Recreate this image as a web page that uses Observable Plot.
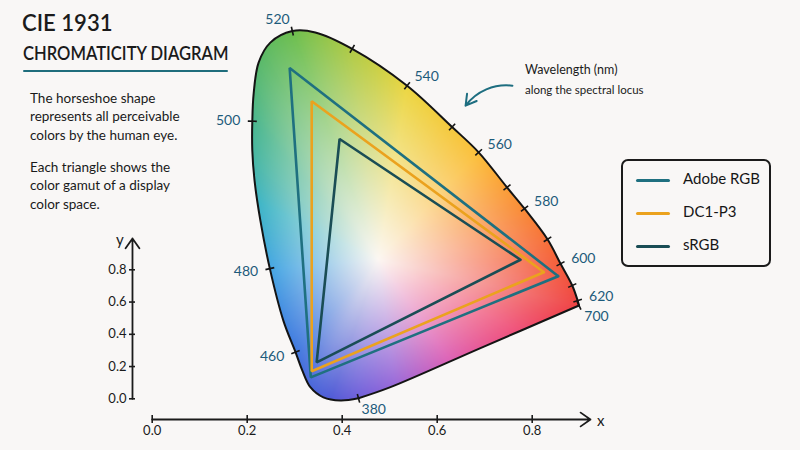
<!DOCTYPE html>
<html>
<head>
<meta charset="utf-8">
<script src="https://cdn.jsdelivr.net/npm/d3@7"></script>
<script src="https://cdn.jsdelivr.net/npm/@observablehq/plot@0.6"></script>
<style>
  html, body { margin: 0; padding: 0; background: #f9f7f6; }
  #wrap { position: relative; width: 800px; height: 450px; overflow: hidden;
          font-family: Lato, "Noto Sans", sans-serif; color: #1b1b1b; }
  #wrap svg { position: absolute; left: 0; top: 0; }
  .abs { position: absolute; white-space: nowrap; line-height: 1; }
  .desc { position: absolute; left: 30px; font-size: 13.5px; line-height: 18.3px; color: #1a1a1a; white-space: nowrap; }
  .legbox { position: absolute; left: 621px; top: 159px; width: 150px; height: 108px; box-sizing: border-box;
            border: 2px solid #1b1b1b; border-radius: 7px; }
  .legline { position: absolute; left: 636px; width: 34px; height: 3px; border-radius: 1.5px; }
  .legtext { position: absolute; left: 683px; font-size: 15px; line-height: 1; white-space: nowrap; color: #161616; }
</style>
</head>
<body>
<div id="wrap">
  <div id="plots"></div>
  <div class="abs" style="left:22px;top:11px;font-size:23.5px;font-weight:600;transform:scaleX(0.94);transform-origin:left top;">CIE 1931</div>
  <div class="abs" style="left:23px;top:43px;font-size:19.5px;font-weight:600;transform:scaleX(0.85);transform-origin:left top;">CHROMATICITY DIAGRAM</div>
  <div class="abs" style="left:23px;top:69.5px;width:205px;height:2.4px;background:#1f6d7c;border-radius:1px;"></div>
  <div class="desc" style="top:89px;">The horseshoe shape<br>represents all perceivable<br>colors by the human eye.</div>
  <div class="desc" style="top:158px;">Each triangle shows the<br>color gamut of a display<br>color space.</div>
  <div class="abs" style="left:525px;top:64px;font-size:12.5px;">Wavelength (nm)</div>
  <div class="abs" style="left:525px;top:84px;font-size:11.5px;">along the spectral locus</div>
  <div class="abs" style="left:597px;top:413px;font-size:15px;">x</div>
  <div class="abs" style="left:116px;top:232px;font-size:15px;">y</div>
  <div id="legend"></div>
</div>
<script>
// ---------- data ----------
// spectral locus outline (chromaticity frame), from 380 nm round to 700 nm
const locusX = [0.240,0.200,0.162,0.133,0.115,0.100,0.073,0.043,0.022,0.009,0.004,0.004,0.007,0.018,0.044,0.093,0.144,0.226,0.348,0.448,0.507,0.570,0.609,0.660,0.689,0.715,0.727,0.730];
const locusY = [0.005,0.000,0.007,0.030,0.068,0.109,0.180,0.297,0.405,0.495,0.563,0.629,0.691,0.761,0.806,0.832,0.829,0.792,0.709,0.616,0.559,0.480,0.432,0.363,0.308,0.259,0.225,0.214];
const locusNm = [380,null,null,null,null,460,null,480,null,null,null,500,null,null,null,520,null,530,540,550,560,570,580,590,600,610,620,700];
// line of purples, 700 nm back to 380 nm
const purpleX = [0.730,0.511,0.311,0.240];
const purpleY = [0.214,0.118,0.030,0.005];
// wavelengths that carry a label
const labelNm = [380,460,480,500,520,540,560,580,600,620,700];

// gamut triangles: vertices R, G, B
const gamuts = ["Adobe RGB", "DC1-P3", "sRGB"];
const gamutX = [[0.684,0.087,0.134],[0.652,0.136,0.136],[0.600,0.198,0.147]];
const gamutY = [[0.280,0.749,0.052],[0.289,0.674,0.066],[0.317,0.589,0.086]];

// axis ticks of the schematic axes
const xTicks = [0, 0.2, 0.4, 0.6, 0.8];
const yTicks = [0, 0.2, 0.4, 0.6, 0.8];

// annotation arrow (chromaticity frame)
const annotationArrow = [{x1: 0.582, y1: 0.709, x2: 0.478, y2: 0.664}];

// colour stops of the horseshoe fill, along the rim
const fillStopX = [0.240,0.178,0.100,0.043,0.011,0.004,0.027,0.093,0.226,0.348,0.507,0.609,0.689,0.730,0.600,0.444,0.322];
const fillStopY = [0.005,0.002,0.108,0.297,0.450,0.629,0.777,0.832,0.792,0.709,0.559,0.432,0.308,0.214,0.158,0.090,0.034];
const fillStopColor = ["#7060da","#4f5bd6","#3f78df","#45a6e3","#3db5c6","#48b68f","#5bb966","#6cbe4e","#b2cb46","#ecd642","#fbbf3a","#f98b36","#f55e3a","#ef4343","#ef5078","#dd62b6","#9a6ad9"];

// ---------- styles ----------
const gamutColors = ["#1f7080", "#eba21e", "#1a4d55"];
const centerColor = d3.rgb("#fcf7f3");
const X0 = 250, KX = 450, Y0 = 400, KY = 444;   // frame of the horseshoe plot
const toPx = (x, y) => [X0 + KX * x, Y0 - KY * y];

// ---------- geometry helpers ----------
const spectral = locusX.map((x, i) => ({x, y: locusY[i], nm: locusNm[i]}));
const purple = purpleX.map((x, i) => ({x, y: purpleY[i]}));
const seq = spectral.map(d => [d.x, d.y]).concat(purple.slice(1, -1).map(d => [d.x, d.y]));
const nSeq = seq.length;

const tickRows = [], labelRows = [];
spectral.forEach((d, i) => {
  if (d.nm == null) return;
  const [ax, ay] = toPx(...seq[(i - 1 + nSeq) % nSeq]);
  const [bx, by] = toPx(...seq[(i + 1) % nSeq]);
  let tx = bx - ax, ty = by - ay; const L = Math.hypot(tx, ty); tx /= L; ty /= L;
  const nx = ty, ny = -tx;   // outward normal (screen)
  const h = 4.5;
  tickRows.push({x1: d.x - nx * h / KX, y1: d.y + ny * h / KY, x2: d.x + nx * h / KX, y2: d.y - ny * h / KY});
  if (labelNm.includes(d.nm)) {
    const off = 12;
    labelRows.push({lx: d.x + nx * off / KX, ly: d.y - ny * off / KY, label: String(d.nm),
      anchor: nx > 0.2 ? "start" : nx < -0.2 ? "end" : "middle"});
  }
});

// dense boundary polygon (px) following the same catmull-rom curves as the outline
const ns = "http://www.w3.org/2000/svg";
const tmpSvg = document.createElementNS(ns, "svg");
tmpSvg.setAttribute("style", "position:absolute;visibility:hidden;width:10px;height:10px");
document.body.appendChild(tmpSvg);
const tmpPath = document.createElementNS(ns, "path");
tmpSvg.appendChild(tmpPath);
function samplePath(pts) {
  tmpPath.setAttribute("d", d3.line().curve(d3.curveCatmullRom)(pts));
  const L = tmpPath.getTotalLength(), out = [];
  for (let l = 0; l <= L; l += 0.5) { const p = tmpPath.getPointAtLength(l); out.push([p.x, p.y]); }
  return out;
}
const polyPx = samplePath(spectral.map(d => toPx(d.x, d.y))).concat(samplePath(purple.map(d => toPx(d.x, d.y))));
tmpSvg.remove();

const C = toPx(0.284, 0.318);
const NB = 1440;
const Rb = new Float64Array(NB);
const binOf = a => Math.min(NB - 1, Math.floor((a + Math.PI) / (2 * Math.PI) * NB));
for (const [px, py] of polyPx) {
  const b = binOf(Math.atan2(py - C[1], px - C[0]));
  const dd = Math.hypot(px - C[0], py - C[1]);
  if (dd > Rb[b]) Rb[b] = dd;
}
for (let b = 0; b < NB; b++) if (!Rb[b]) {
  for (let k = 1; k < NB; k++) {
    const v = Rb[(b + k) % NB] || Rb[(b - k + NB) % NB];
    if (v) { Rb[b] = v; break; }
  }
}
const stops = fillStopX.map((x, i) => {
  const [px, py] = toPx(x, fillStopY[i]);
  return {a: Math.atan2(py - C[1], px - C[0]), c: fillStopColor[i]};
}).sort((p, q) => p.a - q.a);
function edgeAt(a) {
  const m = stops.length;
  for (let k = 0; k < m; k++) {
    const s0 = stops[k], s1 = stops[(k + 1) % m];
    const a0 = s0.a, a1 = k === m - 1 ? s1.a + 2 * Math.PI : s1.a;
    let aa = a; if (aa < a0) aa += 2 * Math.PI;
    if (aa >= a0 && aa <= a1) return d3.rgb(d3.interpolateLab(s0.c, s1.c)((aa - a0) / (a1 - a0)));
  }
  return d3.rgb(stops[0].c);
}
const edgeCol = Array.from({length: NB}, (_, b) => edgeAt(-Math.PI + (b + 0.5) / NB * 2 * Math.PI));

function chromaFill(x, y) {
  const [px, py] = toPx(x, y);
  if (!d3.polygonContains(polyPx, [px, py])) return null;
  const dx = px - C[0], dy = py - C[1];
  const b = binOf(Math.atan2(dy, dx));
  const s = Math.min(1, Math.hypot(dx, dy) / Rb[b]);
  const f = Math.pow(s, 1.0);
  const e = edgeCol[b];
  return `rgb(${Math.round(centerColor.r + (e.r - centerColor.r) * f)},${Math.round(centerColor.g + (e.g - centerColor.g) * f)},${Math.round(centerColor.b + (e.b - centerColor.b) * f)})`;
}

const gamutRows = gamuts.map((name, g) =>
  [0, 1, 2, 0].map(k => ({name, x: gamutX[g][k], y: gamutY[g][k]})));

// ---------- schematic axes ----------
const axesPlot = Plot.plot({
  width: 800, height: 450,
  marginLeft: 132, marginBottom: 31, marginTop: 0, marginRight: 0,
  style: {background: "transparent", fontFamily: "Lato, sans-serif", fontSize: "13px", color: "#1b1b1b"},
  x: {domain: [0, 0.8], range: [151.7, 531.7]},
  y: {domain: [0, 0.8], range: [398.3, 269.3]},
  marks: [
    Plot.axisX({ticks: xTicks, anchor: "bottom", tickSize: 8, dy: -4, tickFormat: () => "", label: null, strokeWidth: 1.6}),
    Plot.axisX({ticks: xTicks, anchor: "bottom", tickSize: 0, tickPadding: 6, tickFormat: d3.format(".1f"), label: null, fontSize: 13}),
    Plot.axisY({ticks: yTicks, anchor: "left", tickSize: 6, dx: 3, tickFormat: () => "", label: null, strokeWidth: 1.6}),
    Plot.axisY({ticks: yTicks, anchor: "left", tickSize: 0, tickPadding: 6, tickFormat: d3.format(".1f"), label: null, fontSize: 13}),
    Plot.arrow([0], {x1: 0, x2: 0.9227, y1: -0.1284, y2: -0.1284, stroke: "#1b1b1b", strokeWidth: 1.8, headLength: 10, headAngle: 70}),
    Plot.arrow([0], {x1: -0.0415, x2: -0.0415, y1: 0, y2: 0.994, stroke: "#1b1b1b", strokeWidth: 1.8, headLength: 10, headAngle: 70})
  ]
});

// ---------- horseshoe ----------
const locusPlot = Plot.plot({
  width: 800, height: 450, margin: 0,
  style: {background: "transparent", fontFamily: "Lato, sans-serif"},
  x: {domain: [0, 1], range: [X0, X0 + KX], axis: null},
  y: {domain: [0, 1], range: [Y0, Y0 - KY], axis: null},
  color: {type: "identity"},
  marks: [
    Plot.raster({x1: -0.01, x2: 0.745, y1: -0.01, y2: 0.845, pixelSize: 1, fill: chromaFill}),
    ...gamutRows.map((rows, g) => Plot.line(rows, {x: "x", y: "y", stroke: gamutColors[g], strokeWidth: 2.6, strokeLinejoin: "miter"})),
    Plot.line(spectral, {x: "x", y: "y", curve: "catmull-rom", stroke: "#141414", strokeWidth: 2}),
    Plot.line(purple, {x: "x", y: "y", curve: "catmull-rom", stroke: "#141414", strokeWidth: 2}),
    Plot.link(tickRows, {x1: "x1", y1: "y1", x2: "x2", y2: "y2", stroke: "#141414", strokeWidth: 1.6}),
    ...["start", "middle", "end"].map(anchor =>
      Plot.text(labelRows.filter(d => d.anchor === anchor), {x: "lx", y: "ly", text: "label", textAnchor: anchor, fill: "#1d5b7b", fontSize: 14})),
    Plot.arrow(annotationArrow, {x1: "x1", y1: "y1", x2: "x2", y2: "y2", bend: -30, stroke: "#1e6e80", strokeWidth: 2, headLength: 9})
  ]
});

const plots = document.getElementById("plots");
plots.appendChild(axesPlot);
plots.appendChild(locusPlot);

// ---------- legend ----------
const legend = document.getElementById("legend");
const box = document.createElement("div"); box.className = "legbox"; legend.appendChild(box);
const legY = [180, 213, 246];
gamuts.forEach((name, g) => {
  const ln = document.createElement("div"); ln.className = "legline";
  ln.style.top = (legY[g] - 1.5) + "px"; ln.style.background = gamutColors[g]; legend.appendChild(ln);
  const tx = document.createElement("div"); tx.className = "legtext";
  tx.style.top = (legY[g] - 9) + "px"; tx.textContent = name; legend.appendChild(tx);
});
</script>
</body>
</html>
